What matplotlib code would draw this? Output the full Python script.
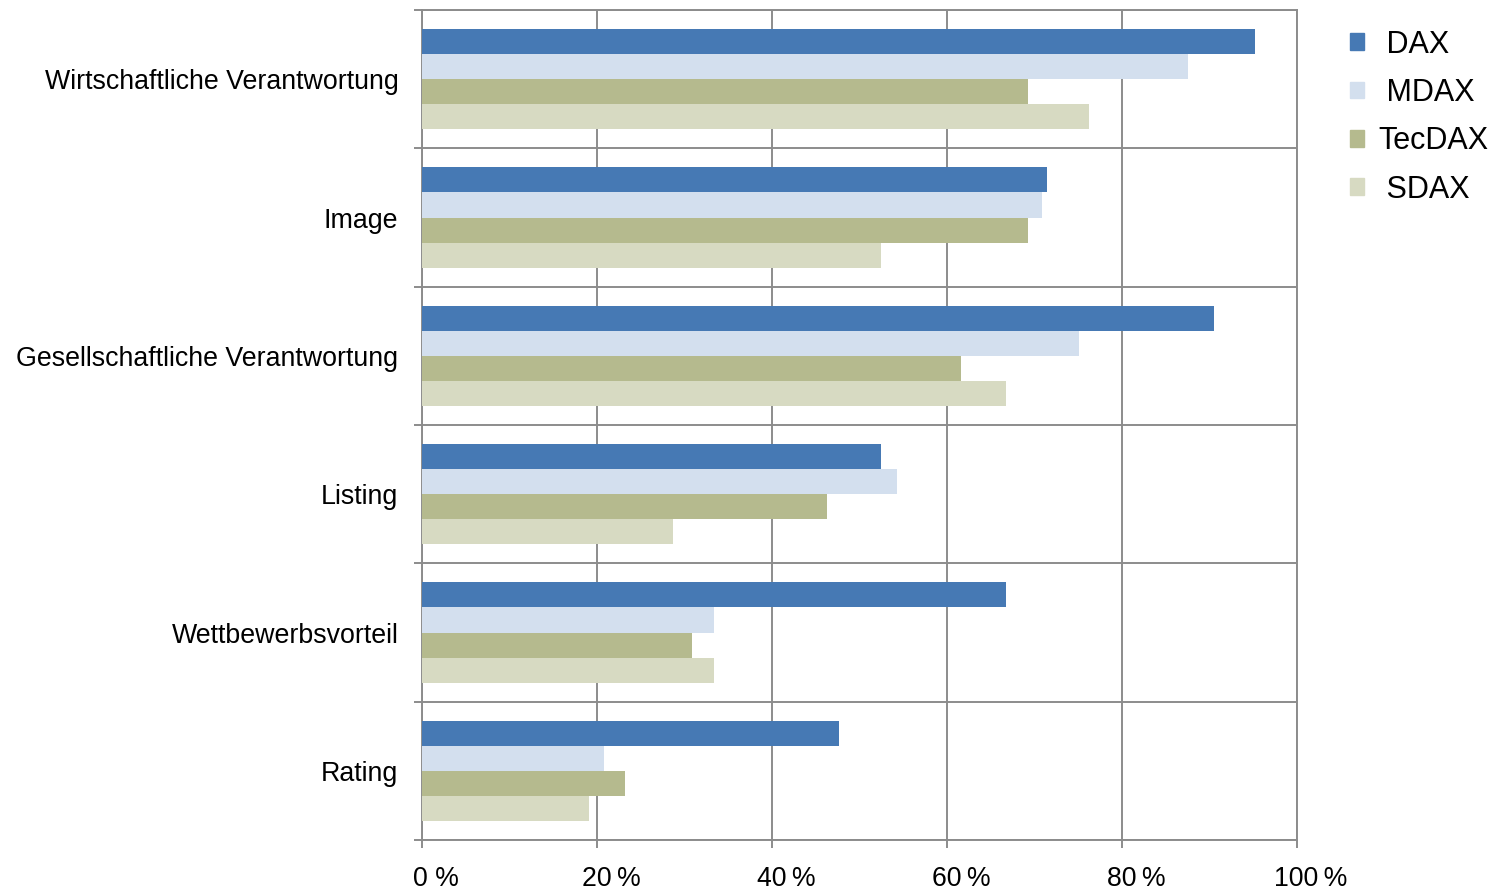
import numpy as np
import matplotlib.pyplot as plt
import matplotlib.transforms as mtransforms
from matplotlib.patches import Patch

plt.rcParams['font.family'] = ['Liberation Sans', 'DejaVu Sans']

categories = ['Wirtschaftliche Verantwortung', 'Image', 'Gesellschaftliche Verantwortung',
              'Listing', 'Wettbewerbsvorteil', 'Rating']
series_names = ['DAX', 'MDAX', 'TecDAX', 'SDAX']
dax = [95.2, 71.4, 90.5, 52.5, 66.7, 47.7]
mdax = [87.5, 70.9, 75.1, 54.3, 33.4, 20.8]
tecdax = [69.3, 69.3, 61.6, 46.3, 30.9, 23.2]
sdax = [76.2, 52.5, 66.7, 28.7, 33.4, 19.1]
x_ticks = [0, 20, 40, 60, 80, 100]
x_labels = ['0 %', '20\u2009%', '40\u2009%', '60\u2009%', '80\u2009%', '100\u2009%']

colors = ['#4679b4', '#d3dfee', '#b5ba8e', '#d7dac2']
legend_labels = [' DAX', ' MDAX', 'TecDAX', ' SDAX']

fig = plt.figure(figsize=(14.9, 8.94), dpi=100)
ax = fig.add_axes([0.2832, 0.0604, 0.5873, 0.9284])

grid_col = '#8c8c8c'
bar_h = 0.181
pos = np.arange(len(categories))
for j, vals in enumerate([dax, mdax, tecdax, sdax]):
    ax.barh(pos - 2 * bar_h + (j + 0.5) * bar_h, vals, height=bar_h,
            color=colors[j], zorder=3)

ax.set_xlim(0, 100)
ax.set_ylim(len(categories) - 0.5, -0.5)
ax.set_xticks(x_ticks)
ax.set_xticklabels(x_labels, fontsize=19.2)
ax.set_yticks(pos)
ax.set_yticklabels(categories, fontsize=19.3)
ax.set_yticks(np.arange(len(categories) + 1) - 0.5, minor=True)

ax.grid(axis='x', color=grid_col, lw=1.4, zorder=0)
ax.grid(axis='y', which='minor', color=grid_col, lw=1.4, zorder=0)
ax.tick_params(axis='y', which='major', length=0, pad=17)
ax.tick_params(axis='y', which='minor', length=6, width=1.4, color=grid_col)
ax.tick_params(axis='x', length=6, width=1.4, color=grid_col, pad=13)
for s in ax.spines.values():
    s.set_color(grid_col)
    s.set_linewidth(1.4)

# shift x labels a bit to the right like the original
shift = mtransforms.ScaledTranslation(0.14, 0, fig.dpi_scale_trans)
for tick in ax.xaxis.get_major_ticks():
    tick.label1.set_transform(tick.label1.get_transform() + shift)

handles = [Patch(color=c) for c in colors]
fig.legend(handles, legend_labels, loc='upper left', bbox_to_anchor=(0.906, 0.967),
           frameon=False, fontsize=22, handlelength=0.46, handleheight=0.46,
           handletextpad=0.46, labelspacing=0.6, borderpad=0, borderaxespad=0)

fig.savefig('out.png', dpi=100)
